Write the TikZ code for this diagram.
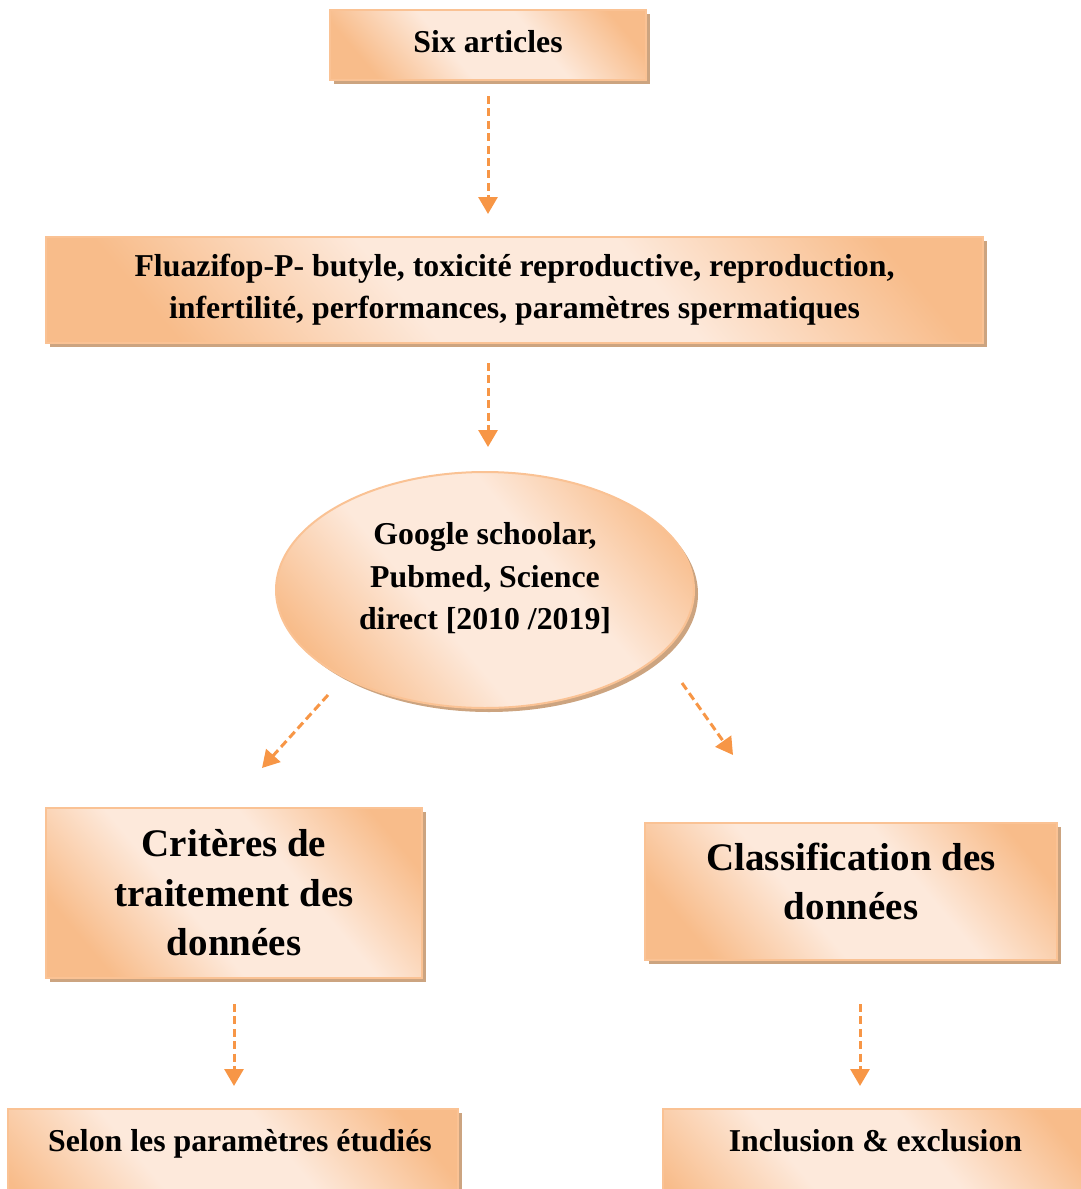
\documentclass[tikz,border=0pt]{standalone}
\usepackage{fontspec}
\setmainfont{Liberation Serif}
\usetikzlibrary{arrows.meta,shadows,shapes.geometric}

\definecolor{boxorange}{RGB}{248,188,138}
\definecolor{boxlight}{RGB}{253,233,219}
\definecolor{boxedge}{RGB}{250,194,148}
\definecolor{boxshadow}{RGB}{204,164,128}
\definecolor{flowcol}{RGB}{247,150,70}

\pgfdeclarehorizontalshading{boxshade}{100bp}{color(0bp)=(boxorange); color(24bp)=(boxorange); color(42bp)=(boxlight); color(60bp)=(boxlight); color(78bp)=(boxorange); color(100bp)=(boxorange)}

\tikzset{
  boxnode/.style={rectangle, draw=boxedge, line width=1pt, shading=boxshade, shading angle=40,
    drop shadow={shadow xshift=2pt, shadow yshift=-2pt, fill=boxshadow, opacity=1},
    align=center, inner sep=0pt, font=\bfseries\fontsize{15.9}{21}\selectfont},
  bigtext/.style={font=\bfseries\fontsize{19.5}{24.75}\selectfont},
  flow/.style={draw=flowcol, line width=1.5pt, dash pattern=on 4pt off 2.2pt,
    -{Triangle[length=8.5pt,width=9.5pt]}}
}

\begin{document}
\begin{tikzpicture}[x=0.5pt,y=-0.5pt]

      \path[use as bounding box, clip] (0,0) rectangle (1081,1189);

      \begin{scope}[every node/.style={boxnode}]
        \node (1) at (488,45) [minimum width=158pt, minimum height=35pt, text depth=4pt] {Six articles};
        \node (2) at (514.5,290) [minimum width=468.5pt, minimum height=53pt]
          {Fluazifop-P- butyle, toxicité reproductive, reproduction,\\infertilité, performances, paramètres spermatiques};
        \node (3) at (485,590) [ellipse, minimum width=209pt, minimum height=118pt,
          font=\bfseries\fontsize{15.9}{21.25}\selectfont, text depth=14pt]
          {Google schoolar,\\Pubmed, Science\\direct [2010 /2019]};
        \node (4) at (234,893) [bigtext, minimum width=188pt, minimum height=85pt]
          {Critères de\\traitement des\\données};
        \node (5) at (851,891.5) [bigtext, minimum width=206pt, minimum height=68.5pt, text depth=10.3pt]
          {Classification des\\données};
        \node (6) at (233,1108) [anchor=north, minimum width=225pt, inner ysep=10pt,
          text height=11pt, text depth=50pt] {\hspace*{7pt}Selon les paramètres étudiés};
        \node (7) at (881.5,1108) [anchor=north, minimum width=218.5pt, inner ysep=10pt,
          text height=11pt, text depth=50pt] {Inclusion \& exclusion\hspace*{6pt}};
      \end{scope}

      % ends of the slanted arrows
      \coordinate (3l) at (328,695);
      \coordinate (4t) at (262,768);
      \coordinate (3r) at (682,683);
      \coordinate (5t) at (733,755);

      \begin{scope}[every edge/.style={flow}]
        \path (1.south) edge[shorten <=7.5pt, shorten >=11pt] (1.south |- 2.north);
        \path (2.south -| 1.south) edge[shorten <=9.5pt, shorten >=12pt] (1.south |- 3.north);
        \path (3l) edge (4t);
        \path (3r) edge (5t);
        \path (4.south) edge[shorten <=12.5pt, shorten >=11pt] (4.south |- 6.north);
        \path ([xshift=4.5pt]5.south) edge[shorten <=21.5pt, shorten >=11pt] ([xshift=4.5pt]5.south |- 7.north);
      \end{scope}

    \end{tikzpicture}
\end{document}
